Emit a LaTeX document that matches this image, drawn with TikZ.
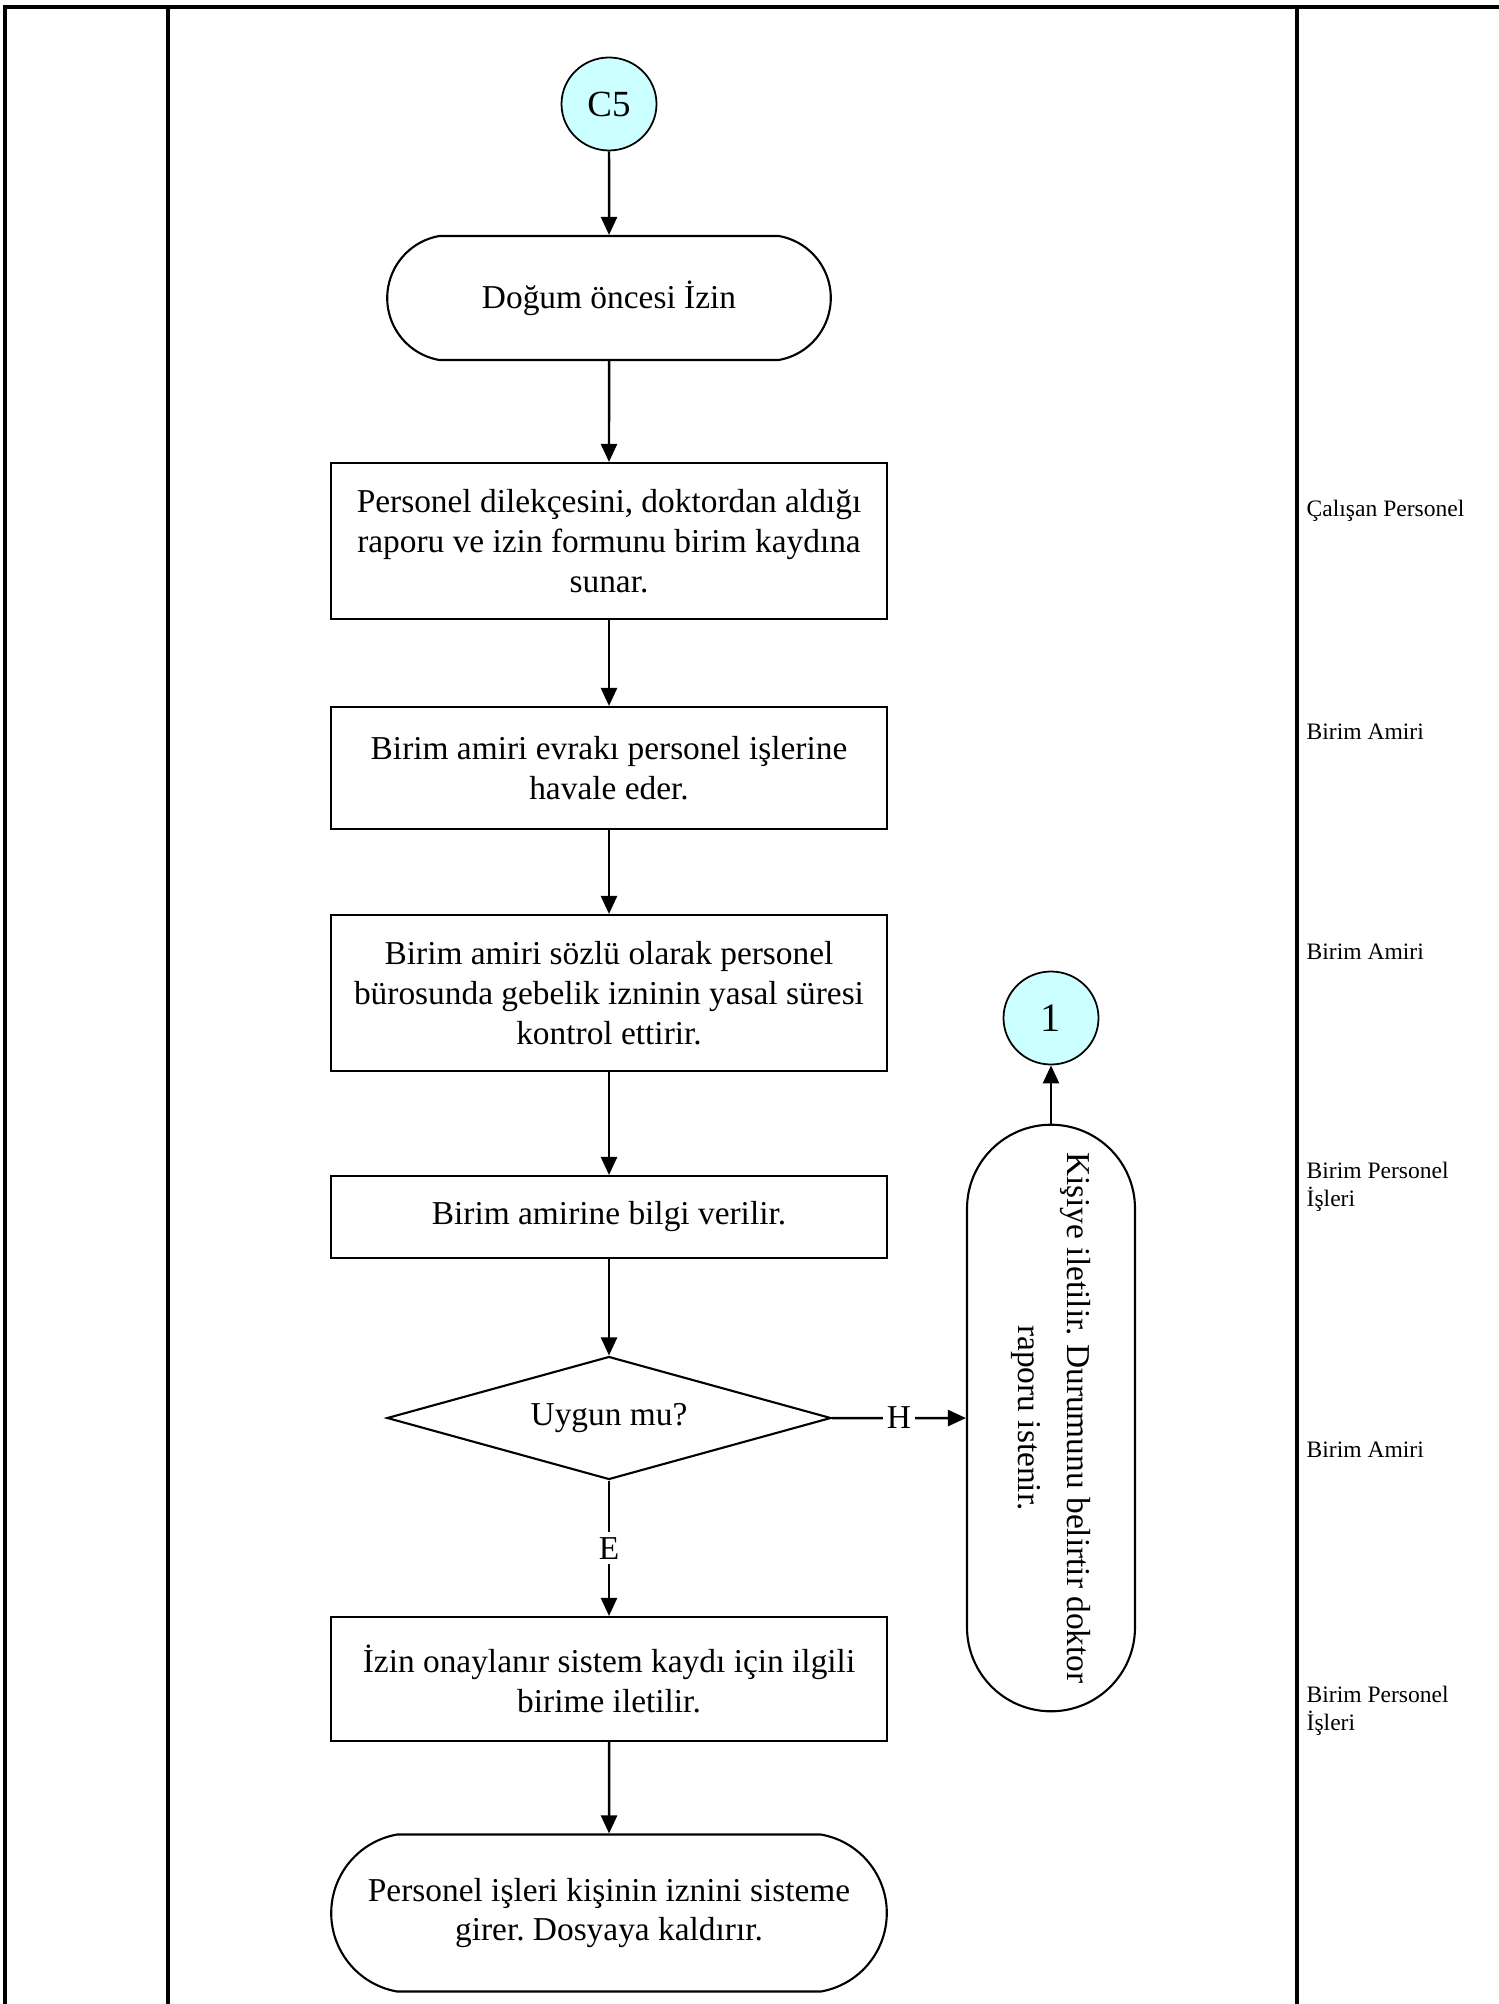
\documentclass[tikz,border=0pt]{standalone}
\usepackage{fontspec}
\setmainfont{Liberation Serif}
\frenchspacing
\usetikzlibrary{arrows.meta,shapes.geometric,shapes.misc}
\definecolor{conncyan}{RGB}{204,255,255}

\begin{document}
\begin{tikzpicture}
    % Define styles for shapes
    \tikzstyle{connector} = [draw, ellipse, fill=conncyan, line width=0.5pt, minimum width=0.95cm, minimum height=0.93cm, inner sep=0pt, font=\fontsize{10.5}{12}\selectfont]
    \tikzstyle{terminal} = [draw, rounded rectangle, rounded rectangle arc length=160, line width=0.6pt, minimum width=4.67cm, minimum height=1.24cm, align=center, font=\fontsize{9.5}{11.3}\selectfont]
    \tikzstyle{process} = [draw, rectangle, line width=0.6pt, minimum width=5.56cm, align=center, font=\fontsize{9.5}{11.3}\selectfont]
    \tikzstyle{decision} = [draw, diamond, aspect=3.6, line width=0.6pt, minimum width=4.44cm, minimum height=1.23cm, inner sep=0pt, font=\fontsize{9.5}{11.3}\selectfont]
    \tikzstyle{lane} = [anchor=west, inner sep=0pt, align=left, font=\fontsize{6.7}{8}\selectfont]
    \tikzstyle{arrow} = [-{Triangle[length=1.8mm,width=1.6mm]}, line width=0.7pt]
    \tikzstyle{frame} = [line width=1.1pt]

    \useasboundingbox (0,0) rectangle (14.99,-20.04);

    % Draw the table lines
    \draw[frame] (0.05,-20.04) -- (0.05,-0.07) -- (14.99,-0.07);
    \draw[frame] (1.68,-0.07) -- (1.68,-20.04);
    \draw[frame] (12.97,-0.07) -- (12.97,-20.04);

    % Draw the flow shapes
    \node[connector] (cfive) at (6.09,-1.04) {C5};
    \node[terminal] (start) at (6.09,-2.98) {Doğum öncesi İzin};
    \node[process, minimum height=1.56cm] (submit) at (6.09,-5.41) {Personel dilekçesini, doktordan aldığı\\raporu ve izin formunu birim kaydına\\sunar.};
    \node[process, minimum height=1.22cm] (forward) at (6.09,-7.68) {Birim amiri evrakı personel işlerine\\havale eder.};
    \node[process, minimum height=1.56cm] (control) at (6.09,-9.93) {Birim amiri sözlü olarak personel\\bürosunda gebelik izninin yasal süresi\\kontrol ettirir.};
    \node[process, minimum height=0.82cm] (inform) at (6.09,-12.17) {Birim amirine bilgi verilir.};
    \node[decision] (check) at (6.09,-14.18) {Uygun mu?};
    \node[process, minimum height=1.24cm] (approve) at (6.09,-16.79) {İzin onaylanır sistem kaydı için ilgili\\birime iletilir.};
    \node[terminal, minimum width=5.79cm, minimum height=1.57cm] (record) at (6.09,-19.13) {Personel işleri kişinin iznini sisteme\\girer. Dosyaya kaldırır.};
    \node[terminal, rounded rectangle arc length=180, rotate=-90, minimum width=6.10cm, minimum height=1.68cm, font=\fontsize{9.5}{14}\selectfont] (notify) at (10.51,-14.18) {Kişiye iletilir. Durumunu belirtir doktor\\raporu istenir.};
    \node[connector, font=\fontsize{11.5}{13}\selectfont] (one) at (10.51,-10.18) {1};

    % Draw the arrows between the shapes
    \draw[arrow] (cfive) -- (start);
    \draw[arrow] (start) -- (submit);
    \draw[arrow] (submit) -- (forward);
    \draw[arrow] (forward) -- (control);
    \draw[arrow] (control) -- (inform);
    \draw[arrow] (inform) -- (check);
    \draw[arrow] (check) -- node[fill=white, inner sep=1.5pt, font=\fontsize{9.5}{11.3}\selectfont] {E} (approve);
    \draw[arrow] (approve) -- (record);
    \draw[arrow] (check) -- node[fill=white, inner sep=1pt, font=\fontsize{9.5}{11.3}\selectfont] {H} (notify);
    \draw[arrow] (notify) -- (one);

    % Write the lane labels
    \node[lane] (lanea) at (13.06,-5.11) {Çalışan Personel};
    \node[lane] (laneb) at (13.06,-7.32) {Birim Amiri};
    \node[lane] (lanec) at (13.06,-9.52) {Birim Amiri};
    \node[lane] (laned) at (13.06,-11.87) {Birim Personel\\İşleri};
    \node[lane] (lanee) at (13.06,-14.50) {Birim Amiri};
    \node[lane] (lanef) at (13.06,-17.11) {Birim Personel\\İşleri};
\end{tikzpicture}
\end{document}
